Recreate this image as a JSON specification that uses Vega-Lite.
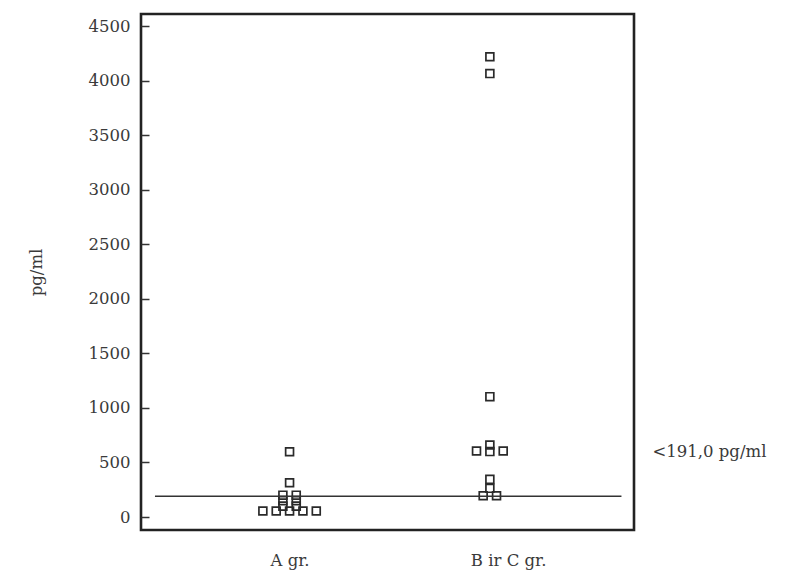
{
  "$schema": "https://vega.github.io/schema/vega-lite/v6.json",
  "autosize": "none",
  "width": 493,
  "height": 516,
  "padding": {"left": 141, "top": 14, "right": 151, "bottom": 53},
  "background": "white",
  "config": {
    "view": {"stroke": "#222", "strokeWidth": 2.6},
    "font": "DejaVu Serif",
    "axis": {"labelFont": "DejaVu Serif", "titleFont": "DejaVu Serif", "labelColor": "#3a3a3a", "titleColor": "#3a3a3a", "labelFontSize": 16.5, "titleFontSize": 16.5, "titleFontWeight": "normal", "grid": false}
  },
  "layer": [
    {
      "data": {"values": [
        {"group": "A gr.", "value": 598, "slot": 0},
        {"group": "A gr.", "value": 314, "slot": 0},
        {"group": "A gr.", "value": 200, "slot": -0.5},
        {"group": "A gr.", "value": 200, "slot": 0.5},
        {"group": "A gr.", "value": 150, "slot": -0.5},
        {"group": "A gr.", "value": 150, "slot": 0.5},
        {"group": "A gr.", "value": 100, "slot": -0.5},
        {"group": "A gr.", "value": 100, "slot": 0.5},
        {"group": "A gr.", "value": 55, "slot": -2},
        {"group": "A gr.", "value": 55, "slot": -1},
        {"group": "A gr.", "value": 55, "slot": 0},
        {"group": "A gr.", "value": 55, "slot": 1},
        {"group": "A gr.", "value": 55, "slot": 2},
        {"group": "B ir C gr.", "value": 4218, "slot": 0},
        {"group": "B ir C gr.", "value": 4064, "slot": 0},
        {"group": "B ir C gr.", "value": 1103, "slot": 0},
        {"group": "B ir C gr.", "value": 660, "slot": 0},
        {"group": "B ir C gr.", "value": 605, "slot": -1},
        {"group": "B ir C gr.", "value": 600, "slot": 0},
        {"group": "B ir C gr.", "value": 605, "slot": 1},
        {"group": "B ir C gr.", "value": 345, "slot": 0},
        {"group": "B ir C gr.", "value": 263, "slot": 0},
        {"group": "B ir C gr.", "value": 195, "slot": -0.5},
        {"group": "B ir C gr.", "value": 195, "slot": 0.5}
      ]},
      "mark": {"type": "point", "shape": "square", "filled": false, "stroke": "#2a2a2a", "strokeWidth": 1.7, "size": 62, "opacity": 1},
      "encoding": {
        "x": {"field": "group", "type": "nominal", "title": null,
          "scale": {"type": "band", "domain": ["A gr.", "B ir C gr."], "paddingInner": 0, "paddingOuter": 0.2307, "align": 0.524},
          "axis": {"orient": "bottom", "labelAngle": 0, "ticks": false, "domain": false, "labelPadding": 22, "labelAlign": "left", "labelOffset": -19, "labelBaseline": "top"}},
        "xOffset": {"field": "slot", "type": "quantitative", "scale": {"domain": [-7.5, 7.5], "zero": false, "nice": false}},
        "y": {"field": "value", "type": "quantitative", "title": "pg/ml",
          "scale": {"domain": [-119, 4610], "nice": false, "zero": false},
          "axis": {"orient": "left", "values": [0, 500, 1000, 1500, 2000, 2500, 3000, 3500, 4000, 4500], "format": "d", "domain": false, "ticks": true, "tickSize": -8, "tickColor": "#333", "tickWidth": 1.5, "labelPadding": 19, "titlePadding": 44}}
      }
    },
    {
      "data": {"values": [{"threshold": 191}]},
      "mark": {"type": "rule", "stroke": "#333", "strokeWidth": 1.5},
      "encoding": {
        "x": {"datum": "A gr.", "type": "nominal", "bandPosition": -0.172},
        "x2": {"datum": "B ir C gr.", "bandPosition": 1.157},
        "y": {"field": "threshold", "type": "quantitative", "title": null,
          "scale": {"domain": [-119, 4610], "nice": false, "zero": false},
          "axis": {"orient": "right", "values": [605], "labelExpr": "'<191,0 pg/ml'", "domain": false, "ticks": false, "labelPadding": 18, "labelAlign": "left", "labelBaseline": "middle"}}
      }
    }
  ],
  "resolve": {"scale": {"y": "independent"}, "axis": {"y": "independent"}}
}
